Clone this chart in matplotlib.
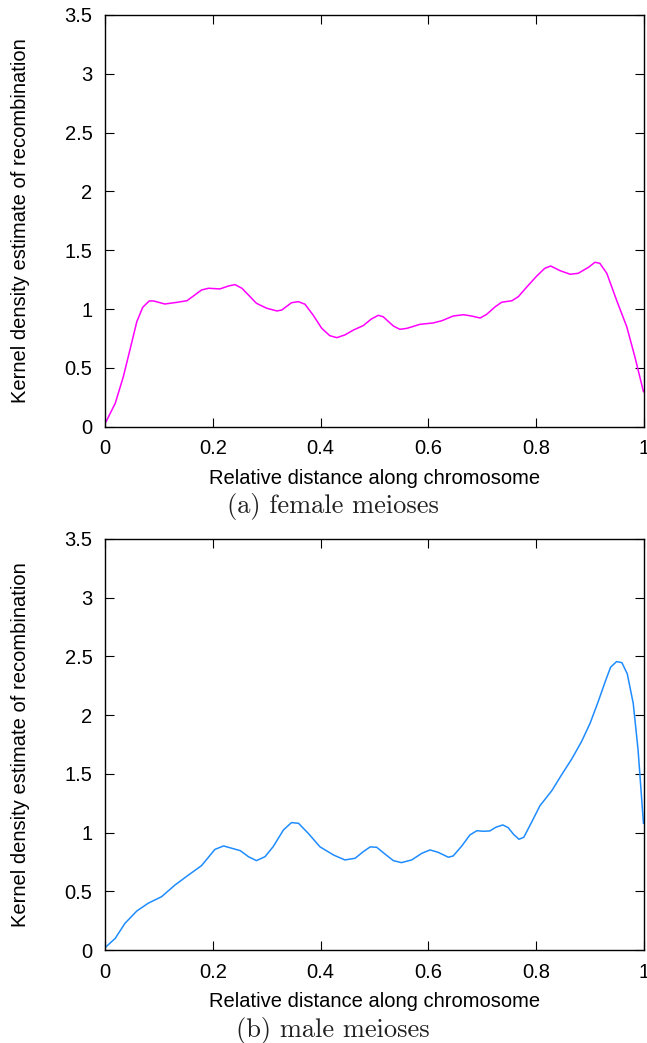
import numpy as np
from matplotlib import pyplot as plt

# female meioses
female_x = [0.002, 0.019, 0.034, 0.050, 0.059, 0.070, 0.082, 0.090, 0.111, 0.133, 0.152,
            0.164, 0.179, 0.192, 0.213, 0.229, 0.241, 0.254, 0.266, 0.281, 0.300,
            0.319, 0.328, 0.346, 0.359, 0.371, 0.386, 0.402, 0.417, 0.430, 0.445,
            0.461, 0.479, 0.494, 0.507, 0.516, 0.535, 0.547, 0.560, 0.584, 0.609,
            0.625, 0.646, 0.665, 0.680, 0.696, 0.708, 0.724, 0.736, 0.755, 0.767,
            0.782, 0.801, 0.816, 0.827, 0.844, 0.863, 0.878, 0.897, 0.909, 0.918,
            0.931, 0.949, 0.968, 0.983, 0.999]
female_y = [0.043, 0.199, 0.425, 0.723, 0.893, 1.015, 1.069, 1.069, 1.043, 1.057, 1.071,
            1.111, 1.162, 1.177, 1.171, 1.196, 1.208, 1.177, 1.120, 1.049, 1.007,
            0.984, 0.992, 1.054, 1.063, 1.041, 0.950, 0.837, 0.774, 0.757, 0.780,
            0.822, 0.859, 0.915, 0.947, 0.935, 0.856, 0.828, 0.836, 0.870, 0.882,
            0.901, 0.941, 0.952, 0.941, 0.924, 0.955, 1.020, 1.058, 1.071, 1.106,
            1.185, 1.281, 1.347, 1.366, 1.327, 1.296, 1.304, 1.355, 1.398, 1.389,
            1.304, 1.077, 0.850, 0.595, 0.298]

# male meioses
male_x = [0.002, 0.019, 0.037, 0.059, 0.080, 0.105, 0.130, 0.155, 0.179, 0.204, 0.220,
          0.251, 0.266, 0.281, 0.297, 0.312, 0.331, 0.346, 0.359, 0.377, 0.399,
          0.424, 0.445, 0.464, 0.479, 0.492, 0.504, 0.520, 0.535, 0.550, 0.569,
          0.588, 0.603, 0.618, 0.637, 0.646, 0.662, 0.677, 0.690, 0.702, 0.714,
          0.725, 0.738, 0.748, 0.758, 0.768, 0.777, 0.792, 0.807, 0.829, 0.847,
          0.866, 0.884, 0.900, 0.915, 0.928, 0.938, 0.949, 0.959, 0.969, 0.980,
          0.989, 0.999]
male_y = [0.028, 0.099, 0.227, 0.332, 0.398, 0.454, 0.554, 0.639, 0.718, 0.857, 0.886,
          0.846, 0.795, 0.761, 0.795, 0.880, 1.022, 1.085, 1.079, 0.994, 0.878,
          0.809, 0.767, 0.781, 0.837, 0.878, 0.875, 0.815, 0.761, 0.744, 0.767,
          0.824, 0.852, 0.832, 0.790, 0.801, 0.886, 0.980, 1.016, 1.011, 1.014,
          1.045, 1.065, 1.042, 0.985, 0.943, 0.960, 1.093, 1.229, 1.357, 1.491,
          1.627, 1.774, 1.931, 2.115, 2.285, 2.408, 2.456, 2.447, 2.351, 2.101,
          1.704, 1.079]

xticks = [0, 0.2, 0.4, 0.6, 0.8, 1]
xticklabels = ['0', '0.2', '0.4', '0.6', '0.8', '1']
yticks = [0, 0.5, 1, 1.5, 2, 2.5, 3, 3.5]
yticklabels = ['0', '0.5', '1', '1.5', '2', '2.5', '3', '3.5']

plt.rcParams['font.family'] = ['Liberation Sans', 'DejaVu Sans']

fig = plt.figure(figsize=(6.47, 10.43), dpi=100)
W, H = 647.0, 1043.0

panels = [
    (female_x, female_y, '#ff00ff', '(a) female meioses', 15, 426.7, 507),
    (male_x, male_y, '#1e8cff', '(b) male meioses', 539, 950, 1031),
]

for xs, ys, col, cap, top, bot, cap_y in panels:
    ax = fig.add_axes([105 / W, 1 - bot / H, (644 - 105) / W, (bot - top) / H])
    ax.plot(xs, ys, color=col, lw=1.1)
    ax.set_xlim(0, 1)
    ax.set_ylim(0, 3.5)
    ax.set_xticks(xticks)
    ax.set_xticklabels(xticklabels)
    ax.set_yticks(yticks)
    ax.set_yticklabels(yticklabels)
    ax.tick_params(direction='in', length=6.5, width=0.8, top=True, right=True,
                   labelsize=14.5, colors='black')
    ax.tick_params(axis='x', pad=9)
    ax.tick_params(axis='y', pad=9)
    for s in ax.spines.values():
        s.set_linewidth(1.0)
    ax.set_xlabel('Relative distance along chromosome', fontsize=14.5)
    ax.set_ylabel('Kernel density estimate of recombination', fontsize=14.5)
    h = bot - top
    ax.xaxis.set_label_coords(0.5, -(478 - 426.7) / 411.7)
    ax.yaxis.set_label_coords((21 - 105) / 539.0, 0.5)
    ax.xaxis.label.set_va('center')
    ax.yaxis.label.set_va('center')
    fig.text(333 / W, 1 - cap_y / H, cap, family='cmr10', fontsize=19,
             ha='center', va='center', color='#202020')

fig.savefig('out.png', dpi=100)
